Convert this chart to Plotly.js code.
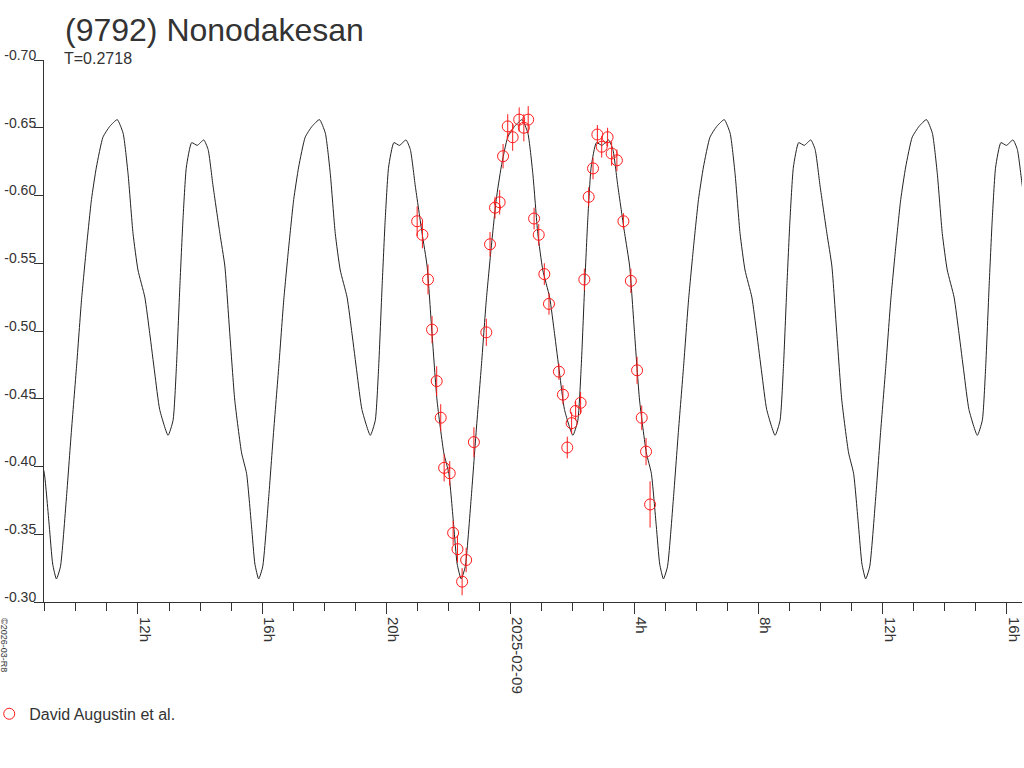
<!DOCTYPE html>
<html>
<head>
<meta charset="utf-8">
<script src="https://cdn.plot.ly/plotly-3.0.1.min.js"></script>
<style>
  html, body { margin: 0; padding: 0; background: #fff; }
  #chart { width: 1024px; height: 768px; }
</style>
</head>
<body>
<div id="chart"></div>
<script>
// Hours relative to 2025-02-09 00:00 UT
var obsHours = [-3.00,-2.83,-2.65,-2.52,-2.37,-2.24,-2.13,-1.95,-1.84,-1.70,-1.55,-1.42,-1.17,-0.77,-0.65,-0.49,-0.34,-0.23,-0.08,0.08,0.29,0.44,0.58,0.77,0.92,1.10,1.25,1.57,1.70,1.84,1.98,2.11,2.27,2.39,2.53,2.67,2.81,2.95,3.14,3.27,3.44,3.65,3.89,4.09,4.24,4.38,4.51];
var obsMag = [-0.581,-0.571,-0.538,-0.501,-0.463,-0.436,-0.399,-0.395,-0.351,-0.339,-0.315,-0.331,-0.418,-0.499,-0.564,-0.591,-0.595,-0.629,-0.651,-0.643,-0.656,-0.650,-0.656,-0.583,-0.571,-0.542,-0.520,-0.470,-0.453,-0.414,-0.432,-0.441,-0.447,-0.538,-0.599,-0.620,-0.645,-0.636,-0.643,-0.631,-0.626,-0.581,-0.537,-0.471,-0.436,-0.411,-0.372];
var obsErr = [0.011,0.010,0.011,0.010,0.011,0.010,0.010,0.009,0.009,0.010,0.010,0.009,0.011,0.010,0.009,0.008,0.009,0.009,0.009,0.010,0.009,0.010,0.010,0.008,0.008,0.008,0.008,0.006,0.007,0.008,0.008,0.007,0.008,0.008,0.007,0.008,0.007,0.008,0.007,0.009,0.008,0.006,0.009,0.010,0.009,0.010,0.017];

var modelHours = [
  -15.18,-15.02,-14.86,-14.75,
  -14.63,-14.50,-14.31,-14.15,-13.98,-13.82,-13.66,-13.50,-13.34,-13.13,-12.91,-12.67,-12.48,-12.32,-12.16,-12.00,-11.78,-11.62,-11.46,-11.30,-11.03,-10.87,-10.76,-10.65,-10.55,-10.44,-10.27,-10.09,-9.88,-9.74,-9.58,-9.36,-9.20,-9.04,-8.88,-8.66,-8.50,-8.34,-8.23,
  -8.11,-7.98,-7.79,-7.63,-7.46,-7.30,-7.14,-6.98,-6.82,-6.61,-6.39,-6.15,-5.96,-5.80,-5.64,-5.48,-5.26,-5.10,-4.94,-4.78,-4.51,-4.35,-4.24,-4.13,-4.03,-3.92,-3.75,-3.57,-3.36,-3.22,-3.06,-2.84,-2.68,-2.52,-2.36,-2.14,-1.98,-1.82,-1.71,
  -1.58,-1.45,-1.26,-1.10,-0.93,-0.77,-0.61,-0.45,-0.29,-0.08,0.14,0.38,0.57,0.73,0.89,1.05,1.27,1.43,1.59,1.75,2.02,2.18,2.29,2.40,2.50,2.61,2.78,2.96,3.17,3.31,3.47,3.69,3.85,4.01,4.17,4.39,4.55,4.71,4.82,
  4.94,5.07,5.26,5.42,5.59,5.75,5.91,6.07,6.23,6.44,6.66,6.90,7.09,7.25,7.41,7.57,7.79,7.95,8.11,8.27,8.54,8.70,8.81,8.92,9.02,9.13,9.30,9.48,9.69,9.83,9.99,10.21,10.37,10.53,10.69,10.91,11.07,11.23,11.34,
  11.46,11.59,11.78,11.94,12.11,12.27,12.43,12.59,12.75,12.96,13.18,13.42,13.61,13.77,13.93,14.09,14.31,14.47,14.63,14.79,15.06,15.22,15.33,15.44,15.54,15.65,15.82,16.00,16.21,16.35,16.51,16.73
];
var modelMag = [
  -0.410,-0.395,-0.356,-0.328,
  -0.317,-0.326,-0.376,-0.425,-0.474,-0.523,-0.562,-0.597,-0.621,-0.643,-0.651,-0.656,-0.646,-0.616,-0.572,-0.545,-0.525,-0.498,-0.469,-0.442,-0.423,-0.434,-0.474,-0.533,-0.582,-0.621,-0.639,-0.637,-0.641,-0.634,-0.607,-0.572,-0.548,-0.498,-0.449,-0.410,-0.395,-0.356,-0.328,
  -0.317,-0.326,-0.376,-0.425,-0.474,-0.523,-0.562,-0.597,-0.621,-0.643,-0.651,-0.656,-0.646,-0.616,-0.572,-0.545,-0.525,-0.498,-0.469,-0.442,-0.423,-0.434,-0.474,-0.533,-0.582,-0.621,-0.639,-0.637,-0.641,-0.634,-0.607,-0.572,-0.548,-0.498,-0.449,-0.410,-0.395,-0.356,-0.328,
  -0.317,-0.326,-0.376,-0.425,-0.474,-0.523,-0.562,-0.597,-0.621,-0.643,-0.651,-0.656,-0.646,-0.616,-0.572,-0.545,-0.525,-0.498,-0.469,-0.442,-0.423,-0.434,-0.474,-0.533,-0.582,-0.621,-0.639,-0.637,-0.641,-0.634,-0.607,-0.572,-0.548,-0.498,-0.449,-0.410,-0.395,-0.356,-0.328,
  -0.317,-0.326,-0.376,-0.425,-0.474,-0.523,-0.562,-0.597,-0.621,-0.643,-0.651,-0.656,-0.646,-0.616,-0.572,-0.545,-0.525,-0.498,-0.469,-0.442,-0.423,-0.434,-0.474,-0.533,-0.582,-0.621,-0.639,-0.637,-0.641,-0.634,-0.607,-0.572,-0.548,-0.498,-0.449,-0.410,-0.395,-0.356,-0.328,
  -0.317,-0.326,-0.376,-0.425,-0.474,-0.523,-0.562,-0.597,-0.621,-0.643,-0.651,-0.656,-0.646,-0.616,-0.572,-0.545,-0.525,-0.498,-0.469,-0.442,-0.423,-0.434,-0.474,-0.533,-0.582,-0.621,-0.639,-0.637,-0.641,-0.634,-0.607,-0.572
];

var xTickVals = [-12,-8,-4,0,4,8,12,16];
var xTickText = ["12h","16h","20h","2025-02-09","4h","8h","12h","16h"];
var yTickVals = [-0.70,-0.65,-0.60,-0.55,-0.50,-0.45,-0.40,-0.35,-0.30];
var yTickText = ["-0.70","-0.65","-0.60","-0.55","-0.50","-0.45","-0.40","-0.35","-0.30"];

var titleText = "(9792) Nonodakesan";
var periodText = "T=0.2718";
var observerName = "David Augustin et al.";
var copyrightText = "©2026-03-R8";

var FONT = "Liberation Sans, Arial, sans-serif";
var RED = "#ff1a1a";
var INK = "#222222";

var traces = [
  {
    x: modelHours, y: modelMag, type: "scatter", mode: "lines",
    line: {color: INK, width: 1, shape: "spline", smoothing: 0.5},
    showlegend: false, hoverinfo: "skip"
  },
  {
    x: obsHours, y: obsMag, type: "scatter", mode: "markers",
    name: observerName,
    marker: {symbol: "circle-open", size: 11, color: RED, line: {color: RED, width: 1}},
    error_y: {type: "data", array: obsErr, visible: true, color: RED, thickness: 1, width: 0}
  }
];

var layout = {
  width: 1024, height: 768,
  paper_bgcolor: "#fff", plot_bgcolor: "#fff",
  margin: {l: 44, r: 2, t: 60, b: 166, pad: 0, autoexpand: false},
  font: {family: FONT, color: "#333", size: 14},
  title: {
    text: titleText, font: {family: FONT, size: 32, color: "#333"},
    xref: "container", yref: "container", x: 65/1024, xanchor: "left",
    y: 1 - 30/768, yanchor: "middle", automargin: false
  },
  xaxis: {
    range: [-15.03, 16.5], showgrid: false, zeroline: false, automargin: false,
    showline: true, linecolor: "#333", linewidth: 1,
    tickmode: "array", tickvals: xTickVals, ticktext: xTickText,
    ticks: "outside", ticklen: 11, tickcolor: "#333", tickwidth: 1,
    tickangle: 90, tickfont: {family: FONT, size: 15, color: "#333"},
    ticklabelshift: 7,
    minor: {dtick: 1, tick0: 0, ticks: "outside", ticklen: 8, tickcolor: "#333", tickwidth: 1, showgrid: false}
  },
  yaxis: {
    range: [-0.30, -0.70], showgrid: false, zeroline: false, automargin: false,
    showline: true, linecolor: "#333", linewidth: 1,
    tickmode: "array", tickvals: yTickVals, ticktext: yTickText,
    ticks: "outside", ticklen: 9, tickcolor: "#333", tickwidth: 1,
    tickfont: {family: FONT, size: 14, color: "#333"},
    ticklabelshift: 5, ticklabelstandoff: -5
  },
  showlegend: true,
  legend: {
    x: -0.056, xanchor: "left", y: -0.175, yanchor: "top",
    font: {family: FONT, size: 16, color: "#333"},
    bgcolor: "rgba(0,0,0,0)", itemwidth: 30
  },
  annotations: [
    {
      text: periodText, xref: "paper", yref: "paper",
      x: (62 - 44) / 978, y: (602 - 58) / 542, xanchor: "left", yanchor: "middle",
      showarrow: false, font: {family: FONT, size: 16, color: "#333"}
    },
    {
      text: copyrightText, xref: "paper", yref: "paper",
      x: (4 - 44) / 978, y: (602 - 645) / 542, xanchor: "center", yanchor: "middle",
      textangle: 90, showarrow: false, font: {family: FONT, size: 9, color: "#333"}
    }
  ]
};

Plotly.newPlot("chart", traces, layout, {displayModeBar: false, staticPlot: true});
</script>
</body>
</html>
